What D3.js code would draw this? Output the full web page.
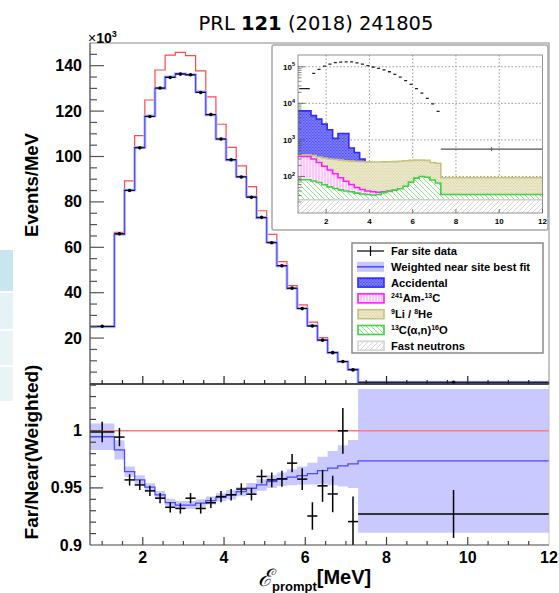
<!DOCTYPE html>
<html>
<head>
<meta charset="utf-8">
<script src="https://cdn.jsdelivr.net/npm/d3@7.9.0/dist/d3.min.js"></script>
<style>
  body { margin: 0; background: #fff; }
  svg text { font-family: "Liberation Sans", Arial, sans-serif; }
</style>
</head>
<body>
<script>
// bin edges in MeV (Daya Bay binning)
const binEdges = [0.7, 1.3, 1.55, 1.8, 2.05, 2.3, 2.55, 2.8, 3.05, 3.3, 3.55, 3.8, 4.05,
  4.3, 4.55, 4.8, 5.05, 5.3, 5.55, 5.8, 6.05, 6.3, 6.55, 6.8, 7.05, 7.3, 12];

// upper panel, units of 10^3 events/MeV
const noOscPred = [25.1, 66.6, 89.3, 109.2, 124.9, 138.1, 144.7, 145.9, 144.4, 137.7, 126.3, 114.2, 104.0,
  95.9, 86.7, 76.1, 65.7, 53.7, 43.1, 34.6, 27.0, 20.2, 14.0, 9.8, 6.5, 0.57];
const nearBestFit = [25.0, 65.7, 85.2, 104.0, 117.8, 130.0, 135.1, 136.5, 136.0, 128.5, 118.3, 107.7, 98.5,
  91.1, 82.3, 73.0, 62.2, 51.8, 41.9, 33.1, 25.5, 19.2, 13.6, 9.6, 6.2, 0.55];
const farData = [25.2, 66.0, 85.0, 103.8, 117.6, 130.2, 134.8, 136.3, 136.0, 128.2, 118.5, 107.7, 98.6,
  91.0, 82.0, 73.2, 62.0, 51.9, 42.0, 33.0, 25.3, 19.1, 13.6, 9.7, 6.0, 0.56];

// lower panel, far / near (weighted)
const ratioData = [0.999, 0.9945, 0.957, 0.9526, 0.9474, 0.941, 0.933, 0.932, 0.941, 0.932, 0.937, 0.9424, 0.944,
  0.949, 0.9445, 0.960, 0.957, 0.958, 0.9717, 0.9577, 0.9254, 0.9518, 0.9447, 1.0, 0.9205, 0.9272];
const ratioErr = [0.009, 0.008, 0.005, 0.0045, 0.0045, 0.0045, 0.0045, 0.0045, 0.0045, 0.0045, 0.0045, 0.005, 0.005,
  0.005, 0.0055, 0.006, 0.0065, 0.007, 0.008, 0.0095, 0.012, 0.014, 0.016, 0.02, 0.022, 0.021];
const ratioFit = [0.9948, 0.9833, 0.9643, 0.957, 0.9506, 0.9439, 0.9371, 0.935, 0.935, 0.9366, 0.9389, 0.9418, 0.9439,
  0.9468, 0.9497, 0.9526, 0.9555, 0.9576, 0.9594, 0.9608, 0.9625, 0.9652, 0.9673, 0.9693, 0.971, 0.9737];
const ratioBand = [0.0115, 0.0085, 0.0045, 0.004, 0.0035, 0.0035, 0.0035, 0.0035, 0.0035, 0.0035, 0.0035, 0.0035, 0.004,
  0.004, 0.0045, 0.005, 0.0055, 0.006, 0.007, 0.008, 0.0095, 0.012, 0.015, 0.018, 0.021, 0.063];

// inset backgrounds, events/MeV
const accidental = [6200, 4600, 3700, 2700, 1900, 1100, 1500, 1500, 600, 450, 300, 250, 200,
  180, 150, 120, 100, 80, 60, 50, 40, 30, 25, 20, 15, 10];
const li9He8 = [390, 370, 340, 320, 300, 290, 280, 270, 262, 256, 252, 250, 248,
  248, 250, 252, 255, 260, 268, 275, 280, 280, 275, 240, 230, 92];
const amC = [350, 300, 240, 190, 150, 118, 92, 74, 60, 50, 44, 40, 38,
  37, 38, 40, 42, 44, 45, 44, 42, 40, 38, 36, 34, 30];
const c13 = [81, 75, 68, 59, 52, 47, 43, 40, 38, 35, 33, 32, 31,
  32, 36, 39, 42, 46, 54, 70, 90, 100, 95, 80, 66, 32];
const fastN = [23, 23, 23, 23, 23, 23, 23, 23, 23, 23, 23, 23, 23,
  23, 23, 23, 23, 23, 23, 23, 23, 23, 23, 23, 23, 23];
const farDataAbs = farData.map(d => d * 1000);

// tick labels
const xTickLabels = [2, 4, 6, 8, 10, 12];
const yTickLabels = [20, 40, 60, 80, 100, 120, 140];
const ratioTickLabels = [0.9, 0.95, 1];
const insetYLabels = [2, 3, 4, 5];
const legendItems = ['Far site data', 'Weighted near site best fit', 'Accidental',
  '241Am-13C', '9Li / 8He', '13C(a,n)16O', 'Fast neutrons'];

const svg = d3.select('body').append('svg').attr('width', 559).attr('height', 593);

// left-edge slide remnants
[[250, 291, '#c7e6ed'], [293, 329, '#e6f3f6'], [331, 365, '#e9f4f7'], [367, 401, '#e9f4f7']].forEach(r => {
  svg.append('rect').attr('x', 0).attr('y', r[0]).attr('width', 13).attr('height', r[1] - r[0]).attr('fill', r[2]);
});

const defs = svg.append('defs');
function hatch(id, bg, fg, w, path, sw) {
  const p = defs.append('pattern').attr('id', id).attr('patternUnits', 'userSpaceOnUse')
    .attr('width', w).attr('height', w);
  p.append('rect').attr('width', w).attr('height', w).attr('fill', bg);
  p.append('path').attr('d', path).attr('stroke', fg).attr('stroke-width', sw).attr('fill', 'none');
}
hatch('pAcc', '#7b7bff', '#5252e6', 3, 'M0,0.5h1.5M1.5,2h1.5', 1);
hatch('pAmc', '#fff0ff', '#ff9cff', 3, 'M1,0v3', 1);
hatch('pLi', '#ede9cb', '#dcd7ad', 3, 'M0,0.5h1.5M1.5,2h1.5', 1);
hatch('pC13', '#ffffff', '#8fe08f', 5, 'M0,0L5,5M-1,4L1,6M4,-1L6,1', 1);
hatch('pFn', '#ffffff', '#d6d6d6', 5, 'M0,5L5,0M-1,1L1,-1M4,6L6,4', 1);

const nEdge = binEdges.length;
const steps = vals => vals.map((v, i) => [binEdges[i], v]).concat([[binEdges[nEdge - 1], vals[vals.length - 1]]]);
const centers = binEdges.slice(0, -1).map((e, i) => (e + binEdges[i + 1]) / 2);

// ---------- upper panel ----------
const xU = d3.scaleLinear().domain([0.7, 12]).range([90, 549]);
const yU = d3.scaleLinear().domain([0, 150]).range([383.5, 43]);

svg.append('clipPath').attr('id', 'clipU').append('rect')
  .attr('x', 90).attr('y', 43).attr('width', 459).attr('height', 341);
const gU = svg.append('g').attr('clip-path', 'url(#clipU)');

const lineU = d3.line().x(d => xU(d[0])).y(d => yU(d[1])).curve(d3.curveStepAfter);
gU.append('path').attr('d', lineU(steps(noOscPred))).attr('fill', 'none')
  .attr('stroke', '#ff4a4a').attr('stroke-width', 1.2);
gU.append('path').attr('d', lineU(steps(nearBestFit))).attr('fill', 'none')
  .attr('stroke', '#c4c4ff').attr('stroke-width', 3);
gU.append('path').attr('d', lineU(steps(nearBestFit))).attr('fill', 'none')
  .attr('stroke', '#4646ff').attr('stroke-width', 1.2);

farData.forEach((v, i) => {
  gU.append('line').attr('x1', xU(binEdges[i])).attr('x2', xU(binEdges[i + 1]))
    .attr('y1', yU(v)).attr('y2', yU(v)).attr('stroke', '#000').attr('stroke-width', 1);
  gU.append('circle').attr('cx', xU(centers[i])).attr('cy', yU(v)).attr('r', 1.8).attr('fill', '#000');
});

// frame and axes
svg.append('rect').attr('x', 90).attr('y', 43).attr('width', 459).attr('height', 341)
  .attr('fill', 'none').attr('stroke', '#8a8a8a').attr('stroke-width', 1);
svg.append('line').attr('x1', 90).attr('x2', 90).attr('y1', 43).attr('y2', 384).attr('stroke', '#555');
svg.append('line').attr('x1', 90).attr('x2', 549).attr('y1', 384).attr('y2', 384).attr('stroke', '#222').attr('stroke-width', 1.3);

d3.range(5, 150, 5).forEach(t => {
  const major = t % 20 === 0;
  svg.append('line').attr('x1', 90).attr('x2', 90 + (major ? 14 : 7)).attr('y1', yU(t)).attr('y2', yU(t))
    .attr('stroke', '#555').attr('stroke-width', 1.2);
});
yTickLabels.forEach(t => {
  svg.append('text').attr('x', 82).attr('y', yU(t) + 5.5).attr('text-anchor', 'end')
    .attr('font-size', 16).attr('font-weight', 'bold').text(t);
});
xU.ticks(23).filter(t => t > 0.7 && t < 12).forEach(t => {
  const major = t % 2 === 0;
  svg.append('line').attr('x1', xU(t)).attr('x2', xU(t)).attr('y1', 384).attr('y2', 384 - (major ? 8 : 4))
    .attr('stroke', '#222').attr('stroke-width', 1.2);
});

const exp = svg.append('text').attr('x', 88).attr('y', 43).attr('font-size', 14).attr('font-weight', 'bold');
exp.append('tspan').attr('font-weight', 'normal').text('×');
exp.append('tspan').text('10');
exp.append('tspan').attr('dy', -6).attr('font-size', 9).text('3');

svg.append('text').attr('transform', 'translate(38,185) rotate(-90)').attr('text-anchor', 'middle')
  .attr('font-size', 18.5).attr('font-weight', 'bold').text('Events/MeV');

// title
const title = svg.append('text').attr('x', 316).attr('y', 30).attr('text-anchor', 'middle')
  .attr('font-size', 19.5).style('font-family', '"DejaVu Sans", Verdana, sans-serif');
title.append('tspan').text('PRL ');
title.append('tspan').attr('font-weight', 'bold').text('121');
title.append('tspan').text(' (2018) 241805');

// ---------- inset ----------
const xI = d3.scaleLinear().domain([0.7, 12]).range([298, 542.5]);
const yI = d3.scaleLog().domain([10, 2.1e5]).range([213, 55]);

svg.append('rect').attr('x', 272).attr('y', 45).attr('width', 276).attr('height', 185).attr('rx', 2)
  .attr('fill', '#fff').attr('stroke', '#a8a8a8').attr('stroke-width', 1.5);
svg.append('clipPath').attr('id', 'clipI').append('rect')
  .attr('x', 298).attr('y', 55).attr('width', 244.5).attr('height', 158);
const gI = svg.append('g').attr('clip-path', 'url(#clipI)');

[2, 4, 6, 8, 10].forEach(t => {
  gI.append('line').attr('x1', xI(t)).attr('x2', xI(t)).attr('y1', 55).attr('y2', 213)
    .attr('stroke', '#999').attr('stroke-dasharray', '1.5,2');
});
insetYLabels.forEach(p => {
  gI.append('line').attr('x1', 298).attr('x2', 542.5).attr('y1', yI(10 ** p)).attr('y2', yI(10 ** p))
    .attr('stroke', '#999').attr('stroke-dasharray', '1.5,2');
});

const areaI = d3.area().x(d => xI(d[0])).y0(213).y1(d => yI(d[1])).curve(d3.curveStepAfter);
const lineI = d3.line().x(d => xI(d[0])).y(d => yI(d[1])).curve(d3.curveStepAfter);
[[accidental, 'url(#pAcc)', '#2d2dff'], [li9He8, 'url(#pLi)', '#c9c27e'], [amC, 'url(#pAmc)', '#ff1cff'],
 [c13, 'url(#pC13)', '#3ed43e'], [fastN, 'url(#pFn)', '#cfcfcf']].forEach(([vals, fill, col]) => {
  gI.append('path').attr('d', areaI(steps(vals))).attr('fill', fill);
  gI.append('path').attr('d', lineI(steps(vals))).attr('fill', 'none').attr('stroke', col).attr('stroke-width', 1.6);
});

farDataAbs.forEach((v, i) => {
  const last = i === farDataAbs.length - 1;
  gI.append('line').attr('x1', xI(binEdges[i]) + (last ? 0 : 1.2)).attr('x2', xI(binEdges[i + 1]) - (last ? 0 : 1.2))
    .attr('y1', yI(v)).attr('y2', yI(v)).attr('stroke', last ? '#555' : '#222').attr('stroke-width', 1.3);
});
gI.append('line').attr('x1', xI(centers[25])).attr('x2', xI(centers[25]))
  .attr('y1', yI(farDataAbs[25]) - 2).attr('y2', yI(farDataAbs[25]) + 2).attr('stroke', '#555');

svg.append('rect').attr('x', 298).attr('y', 55).attr('width', 244.5).attr('height', 158)
  .attr('fill', 'none').attr('stroke', '#777').attr('stroke-width', 0.8);
// log minor ticks
[1, 2, 3, 4].forEach(p => {
  [2, 3, 4, 5, 6, 7, 8, 9].forEach(m => {
    const v = m * 10 ** p;
    if (v > 2.1e5) return;
    svg.append('line').attr('x1', 298).attr('x2', 301.5).attr('y1', yI(v)).attr('y2', yI(v)).attr('stroke', '#555').attr('stroke-width', 0.7);
  });
});
insetYLabels.forEach(p => {
  svg.append('line').attr('x1', 298).attr('x2', 305).attr('y1', yI(10 ** p)).attr('y2', yI(10 ** p)).attr('stroke', '#555').attr('stroke-width', 0.8);
  const t = svg.append('text').attr('x', 295).attr('y', yI(10 ** p) + 3).attr('text-anchor', 'end')
    .attr('font-size', 8).attr('font-weight', 'bold');
  t.append('tspan').text('10');
  t.append('tspan').attr('dy', -3.5).attr('font-size', 5.5).text(p);
});
xTickLabels.forEach(t => {
  svg.append('line').attr('x1', xI(t)).attr('x2', xI(t)).attr('y1', 213).attr('y2', 209).attr('stroke', '#555').attr('stroke-width', 0.8);
  svg.append('text').attr('x', xI(t)).attr('y', 223.5).attr('text-anchor', 'middle')
    .attr('font-size', 8).attr('font-weight', 'bold').text(t);
});

// ---------- legend ----------
const lg = svg.append('g');
lg.append('rect').attr('x', 352).attr('y', 243).attr('width', 191).attr('height', 110)
  .attr('fill', '#fff').attr('stroke', '#8a8a8a').attr('stroke-width', 1.5);
const legFill = [null, null, ['url(#pAcc)', '#2d2dff'], ['url(#pAmc)', '#ff1cff'], ['url(#pLi)', '#c9c27e'],
  ['url(#pC13)', '#3ed43e'], ['url(#pFn)', '#d4d4d4']];
legendItems.forEach((name, i) => {
  const cy = 251 + i * 15.8;
  if (i === 0) {
    lg.append('line').attr('x1', 357).attr('x2', 384).attr('y1', cy).attr('y2', cy).attr('stroke', '#000').attr('stroke-width', 1.2);
    lg.append('line').attr('x1', 370.5).attr('x2', 370.5).attr('y1', cy - 5).attr('y2', cy + 5).attr('stroke', '#000').attr('stroke-width', 1.2);
  } else if (i === 1) {
    lg.append('rect').attr('x', 357).attr('y', cy - 5).attr('width', 27).attr('height', 10).attr('fill', '#c8c8ff');
    lg.append('line').attr('x1', 357).attr('x2', 384).attr('y1', cy).attr('y2', cy).attr('stroke', '#4646ff').attr('stroke-width', 1.5);
  } else {
    lg.append('rect').attr('x', 358).attr('y', cy - 4.5).attr('width', 26).attr('height', 9)
      .attr('fill', legFill[i][0]).attr('stroke', legFill[i][1]).attr('stroke-width', 1.6);
  }
  const tx = lg.append('text').attr('x', 391).attr('y', cy + 4).attr('font-size', 11.2).attr('font-weight', 'bold');
  const sup = s => tx.append('tspan').attr('font-size', 7).attr('dy', -4).text(s);
  const nor = s => tx.append('tspan').attr('font-size', 11.2).attr('dy', 4).text(s);
  if (i === 3) { sup('241'); nor('Am-'); sup('13'); nor('C'); }
  else if (i === 4) { sup('9'); nor('Li / '); sup('8'); nor('He'); }
  else if (i === 5) { sup('13'); nor('C(α,n)'); sup('16'); nor('O'); }
  else tx.text(name);
});

// ---------- lower panel ----------
const yL = d3.scaleLinear().domain([0.9, 1.041]).range([545, 384]);
svg.append('clipPath').attr('id', 'clipL').append('rect')
  .attr('x', 90).attr('y', 384).attr('width', 459).attr('height', 161);
const gL = svg.append('g').attr('clip-path', 'url(#clipL)');

const bandPts = ratioFit.map((v, i) => [binEdges[i], v - ratioBand[i], v + ratioBand[i]]);
bandPts.push([binEdges[nEdge - 1], bandPts[bandPts.length - 1][1], bandPts[bandPts.length - 1][2]]);
gL.append('path').attr('d', d3.area().x(d => xU(d[0])).y0(d => yL(d[1])).y1(d => yL(d[2])).curve(d3.curveStepAfter)(bandPts))
  .attr('fill', '#c9c9ff');
gL.append('line').attr('x1', 90).attr('x2', 549).attr('y1', yL(1)).attr('y2', yL(1))
  .attr('stroke', '#ff7a7a').attr('stroke-width', 1.6);
gL.append('path').attr('d', lineU.y(d => yL(d[1]))(steps(ratioFit))).attr('fill', 'none')
  .attr('stroke', '#4a4aff').attr('stroke-width', 1.3);

ratioData.forEach((v, i) => {
  gL.append('line').attr('x1', xU(binEdges[i])).attr('x2', xU(binEdges[i + 1]))
    .attr('y1', yL(v)).attr('y2', yL(v)).attr('stroke', '#000').attr('stroke-width', 1.5);
  gL.append('line').attr('x1', xU(centers[i])).attr('x2', xU(centers[i]))
    .attr('y1', yL(v - ratioErr[i])).attr('y2', yL(v + ratioErr[i])).attr('stroke', '#000').attr('stroke-width', 1.5);
});

svg.append('line').attr('x1', 90).attr('x2', 90).attr('y1', 384).attr('y2', 545).attr('stroke', '#444').attr('stroke-width', 1.2);
svg.append('line').attr('x1', 90).attr('x2', 549).attr('y1', 545).attr('y2', 545).attr('stroke', '#444').attr('stroke-width', 1.2);
svg.append('line').attr('x1', 549).attr('x2', 549).attr('y1', 384).attr('y2', 545).attr('stroke', '#bbb').attr('stroke-width', 0.8);

d3.range(0.91, 1.041, 0.01).forEach(t => {
  const major = Math.abs(t - 0.95) < 1e-6 || Math.abs(t - 1) < 1e-6;
  svg.append('line').attr('x1', 90).attr('x2', 90 + (major ? 13 : 6)).attr('y1', yL(t)).attr('y2', yL(t))
    .attr('stroke', '#444').attr('stroke-width', 1.2);
});
ratioTickLabels.forEach(t => {
  svg.append('text').attr('x', 82).attr('y', yL(t) + 5.5).attr('text-anchor', 'end')
    .attr('font-size', 16).attr('font-weight', 'bold').text(t);
});
xU.ticks(23).filter(t => t > 0.7 && t < 12).forEach(t => {
  const major = t % 2 === 0;
  svg.append('line').attr('x1', xU(t)).attr('x2', xU(t)).attr('y1', 545).attr('y2', 545 - (major ? 8 : 4))
    .attr('stroke', '#444').attr('stroke-width', 1.2);
});
xTickLabels.forEach(t => {
  svg.append('text').attr('x', xU(t)).attr('y', 563).attr('text-anchor', 'middle')
    .attr('font-size', 16).attr('font-weight', 'bold').text(t);
});

svg.append('text').attr('transform', 'translate(38,452) rotate(-90)').attr('text-anchor', 'middle')
  .attr('font-size', 19).attr('font-weight', 'bold').text('Far/Near(Weighted)');

const xt = svg.append('text').attr('x', 258).attr('y', 586).attr('font-weight', 'bold');
xt.append('tspan').attr('font-size', 24).attr('font-weight', 'normal').attr('font-style', 'italic')
  .style('font-family', '"DejaVu Serif", serif').text('ℰ');
xt.append('tspan').attr('font-size', 13).attr('dy', 5).text('prompt');
xt.append('tspan').attr('font-size', 20).attr('dy', -7).text('[MeV]');
</script>
</body>
</html>
